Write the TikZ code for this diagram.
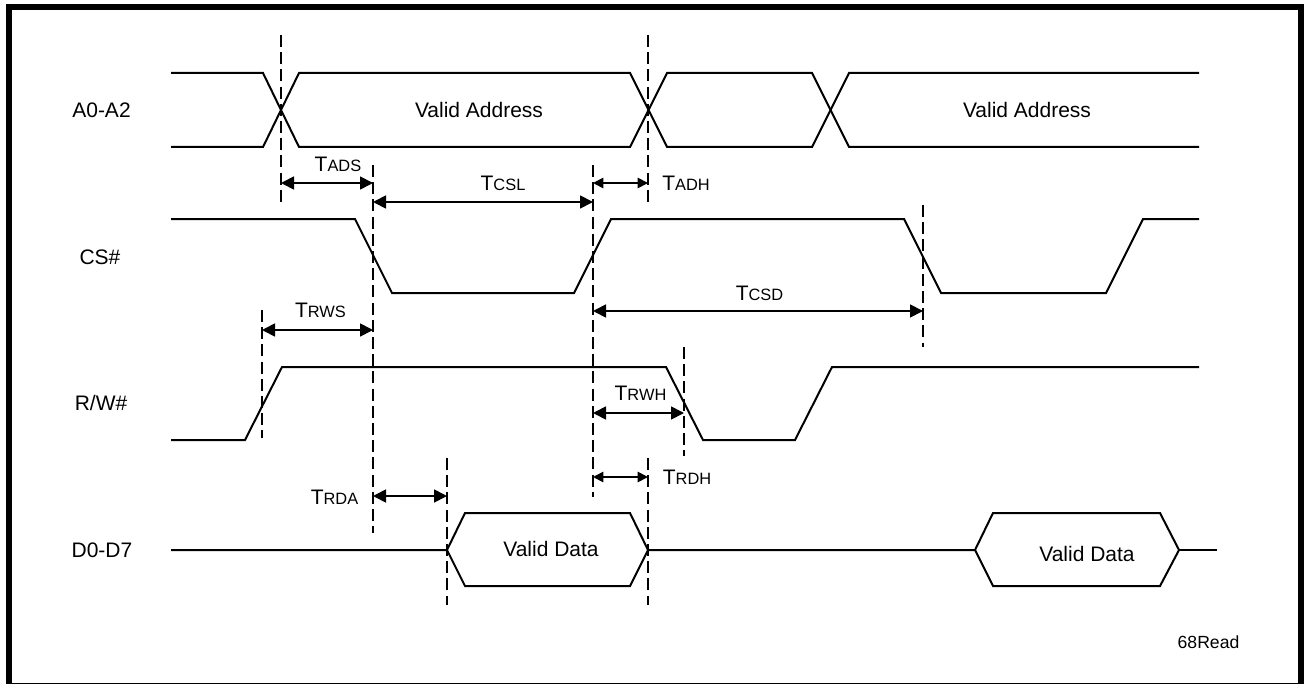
\documentclass[tikz,border=0pt]{standalone}
\usepackage{fontspec}
\setmainfont{Liberation Sans}
\usetikzlibrary{arrows.meta}
\tikzset{
    wave/.style={line width=1pt},
    guide/.style={line width=0.7pt, dash pattern=on 6pt off 2.6pt},
    span/.style={line width=0.9pt, {Triangle[length=6.5pt,width=6.5pt]}-{Triangle[length=6.5pt,width=6.5pt]}},
    spans/.style={line width=0.9pt, {Triangle[length=5.2pt,width=5.2pt]}-{Triangle[length=5.2pt,width=5.2pt]}},
    txt/.style={inner sep=0pt, font=\fontsize{10.5}{12}\selectfont}
}
\newcommand{\tname}[1]{T{\fontsize{8.2}{9}\selectfont #1}}

\begin{document}
\begin{tikzpicture}[x=0.5pt,y=-0.5pt]
\useasboundingbox (0,0) rectangle (1304,684);
% frame
\fill[white] (0,0) rectangle (1304,684);
\fill (6,4) rectangle (1304,684);
\fill[white] (12,10) rectangle (1298,683);

% A0-A2
\node[txt] (sa) at (101.5,110) {A0-A2};
\draw[wave] (171,73) -- (263,73) -- (299,147) -- (630,147) -- (667,73) -- (812,73) -- (849,147) -- (1199,147);
\draw[wave] (171,147) -- (263,147) -- (299,73) -- (630,73) -- (667,147) -- (812,147) -- (849,73) -- (1199,73);
\node[txt] (va1) at (479,110) {Valid Address};
\node[txt] (va2) at (1027,110) {Valid Address};

% CS#
\node[txt] (sc) at (100,257) {CS\#};
\draw[wave] (171,219) -- (355,219) -- (392,293) -- (574,293) -- (611,219) -- (904,219) -- (941,293) -- (1106,293) -- (1143,219) -- (1199,219);

% R/W#
\node[txt] (sr) at (101,403) {R/W\#};
\draw[wave] (171,440) -- (245,440) -- (282,367) -- (666,367) -- (703,440) -- (795,440) -- (832,367) -- (1199,367);

% D0-D7
\node[txt] (sd) at (102,550) {D0-D7};
\draw[wave] (171,550) -- (447,550) -- (465,513) -- (630,513) -- (648,550) -- (630,586) -- (465,586) -- (447,550);
\draw[wave] (648,550) -- (975,550) -- (993,513) -- (1160,513) -- (1179,550) -- (1160,586) -- (993,586) -- (975,550);
\draw[wave] (1179,550) -- (1217,550);
\node[txt] (vd1) at (551,549) {Valid Data};
\node[txt] (vd2) at (1087,553.5) {Valid Data};

% guide lines
\foreach \name/\x/\ya/\yb in {ga/281/35/203,gb/648/35/203,gc/373/165/533,gd/593/165/497,ge/923/205/347,gf/262/310/438,gg/684/347/456,gh/447/458/605,gi/648/458/605}{
    \coordinate (\name t) at (\x,\ya);
    \coordinate (\name b) at (\x,\yb);
    \draw[guide] (\name t) -- (\name b);
}

% spans
\foreach \name/\xa/\xb/\y in {ads/281/373/183,csl/373/593/202,csd/593/923/311,rws/262/373/330,rwh/593/684/413,rda/373/447/496}{
    \coordinate (\name l) at (\xa,\y);
    \coordinate (\name r) at (\xb,\y);
    \draw[span] (\name l) -- (\name r);
}
\foreach \name/\xa/\xb/\y in {adh/593/648/183,rdh/593/648/477}{
    \coordinate (\name l) at (\xa,\y);
    \coordinate (\name r) at (\xb,\y);
    \draw[spans] (\name l) -- (\name r);
}

\node[txt] (tads) at (338,164) {\tname{ADS}};
\node[txt] (tcsl) at (503,183) {\tname{CSL}};
\node[txt] (tadh) at (686,183) {\tname{ADH}};
\node[txt] (tcsd) at (759.5,293.5) {\tname{CSD}};
\node[txt] (trws) at (320.5,310) {\tname{RWS}};
\node[txt] (trwh) at (640.5,393) {\tname{RWH}};
\node[txt] (trdh) at (687,477) {\tname{RDH}};
\node[txt] (trda) at (334.5,497) {\tname{RDA}};

\node[txt] (tag) at (1208.5,642) {\fontsize{8.8}{10}\selectfont 68Read};
\end{tikzpicture}
\end{document}
